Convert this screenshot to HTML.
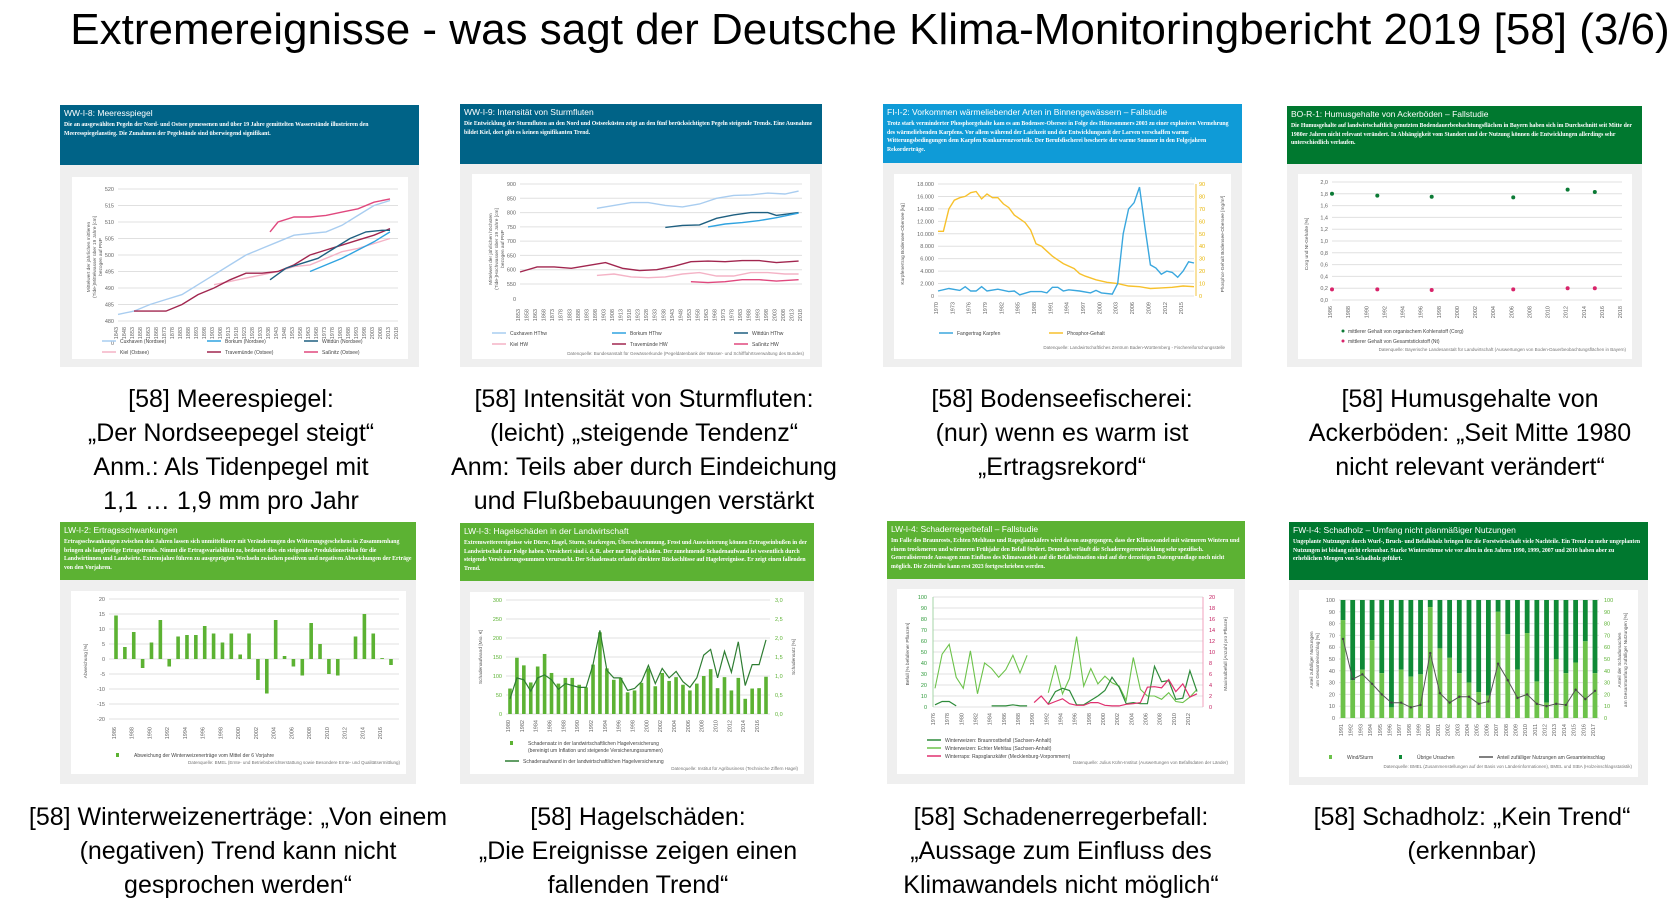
<!DOCTYPE html>
<html><head><meta charset="utf-8">
<style>
body{margin:0;width:1680px;height:905px;background:#fff;position:relative;overflow:hidden;font-family:"Liberation Sans",sans-serif}
#title{position:absolute;left:0;top:5px;width:1740px;text-align:center;font-size:44px;white-space:nowrap;color:#000}
.panel{position:absolute;background:#efefef}
.hdr{position:absolute;left:0;top:0;right:0;color:#fff;padding:3px 4px;box-sizing:border-box}
.hdr .t{font-size:8.5px;font-family:"Liberation Sans",sans-serif;margin-bottom:3px;white-space:nowrap}
.hdr .d{font-size:5.8px;line-height:8.5px;font-family:"Liberation Serif",serif;font-weight:bold}
.box{position:absolute;background:#fff}
.box svg{position:absolute;left:0;top:0}
.cap{position:absolute;text-align:center;font-size:25px;line-height:34px;white-space:nowrap;transform:translateX(-50%);color:#000}
</style></head><body>
<div id="title">Extremereignisse - was sagt der Deutsche Klima-Monitoringbericht 2019 [58] (3/6)</div>

<div class="panel" style="left:60px;top:105px;width:359px;height:262px">
 <div class="hdr" style="height:60px;background:#006387"><div class="t">WW-I-8: Meeresspiegel</div><div class="d">Die an ausgewählten Pegeln der Nord- und Ostsee gemessenen und über 19 Jahre gemittelten Wasserstände illustrieren den Meeresspiegelanstieg. Die Zunahmen der Pegelstände sind überwiegend signifikant.</div></div>
 <div class="box" id="b1" style="left:12px;top:72px;width:336px;height:182px"></div>
</div>
<div class="panel" style="left:460px;top:104px;width:362px;height:263px">
 <div class="hdr" style="height:60px;background:#006387"><div class="t">WW-I-9: Intensität von Sturmfluten</div><div class="d">Die Entwicklung der Sturmfluten an den Nord und Ostseeküsten zeigt an den fünf berücksichtigten Pegeln steigende Trends. Eine Ausnahme bildet Kiel, dort gibt es keinen signifikanten Trend.</div></div>
 <div class="box" id="b2" style="left:12px;top:70px;width:338px;height:185px"></div>
</div>
<div class="panel" style="left:883px;top:104px;width:359px;height:263px">
 <div class="hdr" style="height:59px;background:#0f9bd7"><div class="t">FI-I-2: Vorkommen wärmeliebender Arten in Binnengewässern – Fallstudie</div><div class="d">Trotz stark verminderter Phosphorgehalte kam es am Bodensee-Obersee in Folge des Hitzesommers 2003 zu einer explosiven Vermehrung des wärmeliebenden Karpfens. Vor allem während der Laichzeit und der Entwicklungszeit der Larven verschaffen warme Witterungsbedingungen dem Karpfen Konkurrenzvorteile. Der Berufsfischerei bescherte der warme Sommer in den Folgejahren Rekorderträge.</div></div>
 <div class="box" id="b3" style="left:11px;top:70px;width:337px;height:185px"></div>
</div>
<div class="panel" style="left:1287px;top:106px;width:355px;height:261px">
 <div class="hdr" style="height:58px;background:#00782f"><div class="t">BO-R-1: Humusgehalte von Ackerböden – Fallstudie</div><div class="d">Die Humusgehalte auf landwirtschaftlich genutzten Bodendauerbeobachtungsflächen in Bayern haben sich im Durchschnitt seit Mitte der 1980er Jahren nicht relevant verändert. In Abhängigkeit vom Standort und der Nutzung können die Entwicklungen allerdings sehr unterschiedlich verlaufen.</div></div>
 <div class="box" id="b4" style="left:11px;top:68px;width:334px;height:185px"></div>
</div>

<div class="panel" style="left:60px;top:522px;width:356px;height:262px">
 <div class="hdr" style="height:58px;background:#5cb233"><div class="t">LW-I-2: Ertragsschwankungen</div><div class="d">Ertragsschwankungen zwischen den Jahren lassen sich unmittelbarer mit Veränderungen des Witterungsgeschehens in Zusammenhang bringen als langfristige Ertragstrends. Nimmt die Ertragsvariabilität zu, bedeutet dies ein steigendes Produktionsrisiko für die Landwirtinnen und Landwirte. Extremjahre führen zu ausgeprägten Wechseln zwischen positiven und negativen Abweichungen der Erträge von den Vorjahren.</div></div>
 <div class="box" id="b5" style="left:11px;top:69px;width:335px;height:183px"></div>
</div>
<div class="panel" style="left:460px;top:523px;width:354px;height:261px">
 <div class="hdr" style="height:58px;background:#5cb233"><div class="t">LW-I-3: Hagelschäden in der Landwirtschaft</div><div class="d">Extremwetterereignisse wie Dürre, Hagel, Sturm, Starkregen, Überschwemmung, Frost und Auswinterung können Ertragseinbußen in der Landwirtschaft zur Folge haben. Versichert sind i. d. R. aber nur Hagelschäden. Der zunehmende Schadenaufwand ist wesentlich durch steigende Versicherungssummen verursacht. Der Schadensatz erlaubt direktere Rückschlüsse auf Hagelereignisse. Er zeigt einen fallenden Trend.</div></div>
 <div class="box" id="b6" style="left:10px;top:69px;width:334px;height:182px"></div>
</div>
<div class="panel" style="left:887px;top:521px;width:358px;height:263px">
 <div class="hdr" style="height:58px;background:#5cb233"><div class="t">LW-I-4: Schaderregerbefall – Fallstudie</div><div class="d">Im Falle des Braunrosts, Echten Mehltaus und Rapsglanzkäfers wird davon ausgegangen, dass der Klimawandel mit wärmeren Wintern und einem trockeneren und wärmeren Frühjahr den Befall fördert. Dennoch verläuft die Schaderregerentwicklung sehr spezifisch. Generalisierende Aussagen zum Einfluss des Klimawandels auf die Befallssituation sind auf der derzeitigen Datengrundlage noch nicht möglich. Die Zeitreihe kann erst 2023 fortgeschrieben werden.</div></div>
 <div class="box" id="b7" style="left:10px;top:68px;width:337px;height:185px"></div>
</div>
<div class="panel" style="left:1289px;top:522px;width:359px;height:263px">
 <div class="hdr" style="height:58px;background:#00782f"><div class="t">FW-I-4: Schadholz – Umfang nicht planmäßiger Nutzungen</div><div class="d">Ungeplante Nutzungen durch Wurf-, Bruch- und Befallsholz bringen für die Forstwirtschaft viele Nachteile. Ein Trend zu mehr ungeplanten Nutzungen ist bislang nicht erkennbar. Starke Winterstürme wie vor allen in den Jahren 1990, 1999, 2007 und 2010 haben aber zu erheblichen Mengen von Schadholz geführt.</div></div>
 <div class="box" id="b8" style="left:10px;top:68px;width:339px;height:187px"></div>
</div>

<div class="cap" style="left:231px;top:382px">[58] Meerespiegel:<br>„Der Nordseepegel steigt“<br>Anm.: Als Tidenpegel mit<br>1,1 … 1,9 mm pro Jahr</div>
<div class="cap" style="left:644px;top:382px">[58] Intensität von Sturmfluten:<br>(leicht) „steigende Tendenz“<br>Anm: Teils aber durch Eindeichung<br>und Flußbebauungen verstärkt</div>
<div class="cap" style="left:1062px;top:382px">[58] Bodenseefischerei:<br>(nur) wenn es warm ist<br>„Ertragsrekord“</div>
<div class="cap" style="left:1470px;top:382px">[58] Humusgehalte von<br>Ackerböden: „Seit Mitte 1980<br>nicht relevant verändert“</div>
<div class="cap" style="left:238px;top:800px">[58] Winterweizenerträge: „Von einem<br>(negativen) Trend kann nicht<br>gesprochen werden“</div>
<div class="cap" style="left:638px;top:800px">[58] Hagelschäden:<br>„Die Ereignisse zeigen einen<br>fallenden Trend“</div>
<div class="cap" style="left:1061px;top:800px">[58] Schadenerregerbefall:<br>„Aussage zum Einfluss des<br>Klimawandels nicht möglich“</div>
<div class="cap" style="left:1472px;top:800px">[58] Schadholz: „Kein Trend“<br>(erkennbar)</div>

<script>
// ---- Panel 1 data: Meeresspiegel
const p1Cux=[[1843,482],[1853,483],[1863,485],[1873,486.5],[1883,488],[1893,491],[1903,494],[1913,497],[1923,500],[1933,502],[1943,504],[1953,506],[1963,506.5],[1973,507],[1983,509],[1993,512],[2003,515],[2013,516.5]];
const p1Trav=[[1853,483],[1863,483],[1873,483],[1883,485],[1893,488],[1903,490],[1913,492.5],[1923,494.5],[1933,494.5],[1943,495],[1953,497],[1963,500],[1973,501.5],[1983,503],[1993,504.5],[2003,506],[2013,508]];
const p1Sass=[[1938,507],[1943,510],[1953,511.5],[1963,511.5],[1973,512],[1983,513],[1993,514],[2003,516],[2013,517]];
const p1Witt=[[1938,492.5],[1948,496],[1958,497.5],[1968,499],[1978,502],[1988,505],[1998,507],[2008,507.5],[2013,507.5]];
const p1Bork=[[1963,495],[1973,497],[1983,499],[1993,501.5],[2003,504],[2013,507]];
const p1Kiel=[[1903,491],[1913,492],[1923,493],[1933,494],[1943,495],[1953,496.5],[1963,497],[1973,499],[1983,501],[1993,502],[2003,503.5],[2013,505]];
const p1Ticks=[480,485,490,495,500,505,510,515,520];
// ---- Panel 2 data: Sturmfluten
const p2Cux=[[1898,815],[1908,825],[1918,835],[1928,835],[1938,825],[1948,820],[1958,830],[1968,850],[1978,860],[1988,862],[1998,868],[2008,865],[2016,875]];
const p2Witt=[[1938,748],[1948,755],[1958,757],[1968,780],[1978,792],[1988,800],[1998,800],[2003,790],[2016,800]];
const p2Bork=[[1963,750],[1973,760],[1983,765],[1993,772],[2003,782],[2016,798]];
const p2Trav=[[1853,592],[1863,610],[1873,610],[1883,605],[1893,615],[1903,625],[1913,605],[1923,597],[1933,600],[1943,612],[1953,628],[1963,630],[1973,628],[1983,632],[1993,632],[2003,625],[2016,630]];
const p2Kiel=[[1898,580],[1908,585],[1918,575],[1928,572],[1938,575],[1948,585],[1958,590],[1968,578],[1978,578],[1988,590],[1998,590],[2008,585],[2016,585]];
const p2Sass=[[1953,558],[1963,555],[1973,558],[1983,565],[1993,565],[2003,560],[2016,565]];
const p2Ticks=[550,600,650,700,750,800,850,900];
// ---- Panel 3 data: Bodensee
const p3Karpfen=[[1970,800],[1972,1200],[1974,900],[1975,1500],[1976,800],[1977,800],[1978,1500],[1979,800],[1981,1100],[1983,700],[1984,800],[1985,200],[1987,700],[1989,700],[1990,500],[1991,1400],[1992,1400],[1993,800],[1994,1000],[1996,800],[1998,500],[1999,900],[2000,500],[2002,300],[2003,2000],[2004,10000],[2005,14000],[2006,15000],[2007,17500],[2008,11000],[2009,5000],[2010,4500],[2011,3500],[2012,4000],[2013,3800],[2014,3000],[2015,4000],[2016,5500],[2017,5300]];
const p3Phos=[[1970,52],[1971,52],[1972,70],[1973,77],[1974,79],[1975,80],[1976,83],[1977,84],[1978,78],[1979,82],[1980,79],[1981,79],[1982,74],[1983,71],[1984,65],[1985,62],[1986,59],[1987,53],[1988,42],[1989,40],[1990,36],[1991,32],[1992,29],[1993,26],[1995,22],[1996,18],[1997,16],[1999,13],[2001,11],[2003,10],[2005,8],[2007,7.5],[2009,6],[2011,6.5],[2013,7],[2015,8],[2017,7.5]];
const p3LeftTicks=["0","2.000","4.000","6.000","8.000","10.000","12.000","14.000","16.000","18.000"];
const p3RightTicks=[0,10,20,30,40,50,60,70,80,90];
// ---- Panel 4 data: Humus
const p4Years=[1986,1991,1997,2006,2012,2015];
const p4Corg=[1.8,1.77,1.75,1.74,1.87,1.83];
const p4N=[0.18,0.18,0.17,0.18,0.2,0.2];
const p4Ticks=["0,0","0,2","0,4","0,6","0,8","1,0","1,2","1,4","1,6","1,8","2,0"];
// ---- Panel 5 data: Ertrag
const p5Years=[1986,1987,1988,1989,1990,1991,1992,1993,1994,1995,1996,1997,1998,1999,2000,2001,2002,2003,2004,2005,2006,2007,2008,2009,2010,2011,2012,2013,2014,2015,2016,2017];
const p5Vals=[14.5,4,9,-3,5.5,13,-2.5,7.5,8,8,11,8.5,5.5,8.5,1.5,8.5,-7,-11.5,13,1,-2.5,-5.5,12,5,-5,-5.5,0,7.5,15,8.5,0.3,-2];
const p5Ticks=[-20,-15,-10,-5,0,5,10,15,20];
// ---- Panel 6 data: Hagel
const p6Years=[1980,1981,1982,1983,1984,1985,1986,1987,1988,1989,1990,1991,1992,1993,1994,1995,1996,1997,1998,1999,2000,2001,2002,2003,2004,2005,2006,2007,2008,2009,2010,2011,2012,2013,2014,2015,2016,2017];
const p6Satz=[0.67,1.48,1.28,0.83,1.25,1.58,1.08,0.8,0.95,0.95,0.77,0.7,1.3,2.15,1.2,0.9,0.95,0.57,0.62,0.82,1.2,0.73,1.08,0.87,0.97,0.77,0.62,0.8,1.0,1.18,0.68,0.97,0.62,0.95,0.4,0.67,0.68,0.98];
const p6Aufwand=[40,95,90,60,95,103,90,65,80,75,70,70,130,220,115,95,95,62,67,85,128,80,120,95,112,85,70,95,155,170,95,165,110,190,75,130,130,195];
const p6LeftTicks=[0,50,100,150,200,250,300];
const p6RightTicks=["0,0","0,5","1,0","1,5","2,0","2,5","3,0"];
// ---- Panel 7 data: Schaderreger
const p7Years=[1976,1977,1978,1979,1980,1981,1982,1983,1984,1985,1986,1987,1988,1989,1990,1991,1992,1993,1994,1995,1996,1997,1998,1999,2000,2001,2002,2003,2004,2005,2006,2007,2008,2009,2010,2011,2012,2013];
const p7Braun=[2,5,5,1,null,null,null,null,1,1,1,2,1,1,null,null,3,14,17,15,2,2,6,10,15,27,18,3,4,3,3,37,23,24,7,8,33,14];
const p7Mehltau=[17,48,57,27,17,51,12,40,35,27,34,47,31,47,null,null,13,38,12,26,64,19,35,21,28,22,19,6,45,16,10,10,7,13,5,4,9,16];
const p7Raps=[null,null,null,null,null,null,null,null,null,null,null,null,null,null,0.8,2,0.5,1,1.5,0.6,0.3,0.3,0.8,0.8,0.3,0.2,0.2,0.5,0.6,0.8,3.6,3.7,3.5,5,2.8,4.2,1.8,2.4];
const p7LeftTicks=[0,10,20,30,40,50,60,70,80,90,100];
const p7RightTicks=[0,2,4,6,8,10,12,14,16,18,20];
// ---- Panel 8 data: Schadholz
const p8Years=[1991,1992,1993,1994,1995,1996,1997,1998,1999,2000,2001,2002,2003,2004,2005,2006,2007,2008,2009,2010,2011,2012,2013,2014,2015,2016,2017];
const p8Wind=[83,32,41,66,38,9,41,35,37,94,59,51,38,30,22,19,90,71,41,72,31,13,50,38,47,65,38];
const p8Anteil=[67,33,37,29,20,13,13,9,11,55,21,13,18,18,12,14,46,32,17,20,12,10,12,11,24,16,23];
const p8Ticks=[0,10,20,30,40,50,60,70,80,90,100];

const NS="http://www.w3.org/2000/svg";
function mk(tag,attrs,parent){const e=document.createElementNS(NS,tag);for(const k in attrs)e.setAttribute(k,attrs[k]);if(parent)parent.appendChild(e);return e;}
function svgFor(id){const b=document.getElementById(id);const s=mk('svg',{width:b.clientWidth,height:b.clientHeight});b.appendChild(s);return s;}
function txt(s,x,y,t,opt){opt=opt||{};const e=mk('text',{x:x,y:y,'font-size':opt.fs||5.5,fill:opt.fill||'#555','text-anchor':opt.a||'middle','font-family':'Liberation Sans, sans-serif'},s);if(opt.rot)e.setAttribute('transform','rotate('+opt.rot+' '+x+' '+y+')');e.textContent=t;return e;}
function lin(d0,d1,r0,r1){return v=>r0+(v-d0)/(d1-d0)*(r1-r0);}
function grid(s,ticks,y,x0,x1,labelX,opt){ticks.forEach((t,i)=>{const v=typeof t==='number'?t:i;const yy=y(opt&&opt.idx?i:v);const g=mk('line',{x1:x0,x2:x1,y1:yy,y2:yy,stroke:'#e0e0e0','stroke-width':1},s);const lt=txt(s,labelX,yy+2,String(t),{a:'end',fill:(opt&&opt.fill)||'#666'});});}
function xlabels(s,years,x,y0,step,fill){years.forEach((yr,i)=>{if(i%step)return;const l=txt(s,x(yr),y0,String(yr),{rot:-90,a:'end',fill:fill||'#666'});});}
function path(s,pts,x,y,col,w,name){let d='';let pen=false;pts.forEach(p=>{if(p[1]==null){pen=false;return;}d+=(pen?'L':'M')+x(p[0]).toFixed(1)+','+y(p[1]).toFixed(1);pen=true;});const e=mk('path',{d:d,fill:'none',stroke:col,'stroke-width':w||1.4},s);return e;}
function legend(s,x,y,col,label,type){if(type==='sq')mk('rect',{x:x,y:y-3,width:3,height:4,fill:col},s);else mk('line',{x1:x,x2:x+14,y1:y-1,y2:y-1,stroke:col,'stroke-width':1.5},s);const t=txt(s,x+18,y+1,label,{a:'start',fill:'#444',fs:5});}
function src(s,W,H,t){const e=txt(s,W-6,H-6,t,{a:'end',fill:'#777',fs:4.5});}

// Panel 1
(function(){const s=svgFor('b1');const W=336,H=182;const x=lin(1843,2018,46,326),y=lin(480,520,144,12);
grid(s,p1Ticks,y,46,326,42);txt(s,42,176-8,'0',{a:'end',fill:'#666'});
const yrs=[];for(let v=1843;v<=2018;v+=5)yrs.push(v);xlabels(s,yrs,x,150,1);
txt(s,18,80,'Mittelwert der jährlichen mittleren',{rot:-90,fs:4.8});txt(s,24,80,'(Tide-)Mittelwasser über 19 Jahre [cm]',{rot:-90,fs:4.8});txt(s,30,80,'bezogen auf PNP',{rot:-90,fs:4.8});
path(s,p1Cux,x,y,'#a9cdf0',1.4,'line-cuxhaven');path(s,p1Kiel,x,y,'#f4b3c6',1.4,'line-kiel');path(s,p1Trav,x,y,'#a1264f',1.4,'line-travemuende');path(s,p1Sass,x,y,'#e0487e',1.4,'line-sassnitz');path(s,p1Witt,x,y,'#1e5f80',1.4,'line-wittduen');path(s,p1Bork,x,y,'#2fa3e0',1.4,'line-borkum');
legend(s,30,165,'#a9cdf0','Cuxhaven (Nordsee)');legend(s,135,165,'#2fa3e0','Borkum (Nordsee)');legend(s,232,165,'#1e5f80','Wittdün (Nordsee)');
legend(s,30,176,'#f4b3c6','Kiel (Ostsee)');legend(s,135,176,'#a1264f','Travemünde (Ostsee)');legend(s,232,176,'#e0487e','Saßnitz (Ostsee)');})();

// Panel 2
(function(){const s=svgFor('b2');const W=338,H=185;const x=lin(1853,2018,48,330),y=lin(550,900,110,10);
grid(s,p2Ticks,y,48,330,44);txt(s,44,127,'0',{a:'end',fill:'#666'});
const yrs=[];for(let v=1853;v<=2018;v+=5)yrs.push(v);xlabels(s,yrs,x,135,1);
txt(s,20,75,'Mittelwert der jährlichen höchsten',{rot:-90,fs:4.8});txt(s,26,75,'(Tide-)Hochwasser über 19 Jahre [cm]',{rot:-90,fs:4.8});txt(s,32,75,'bezogen auf PNP',{rot:-90,fs:4.8});
path(s,p2Cux,x,y,'#a9cdf0',1.4,'line-cuxhaven');path(s,p2Witt,x,y,'#1e5f80',1.4,'line-wittduen');path(s,p2Bork,x,y,'#2fa3e0',1.4,'line-borkum');path(s,p2Trav,x,y,'#a1264f',1.4,'line-travemuende');path(s,p2Kiel,x,y,'#f4b3c6',1.4,'line-kiel');path(s,p2Sass,x,y,'#e0487e',1.4,'line-sassnitz');
legend(s,20,160,'#a9cdf0','Cuxhaven HThw');legend(s,140,160,'#2fa3e0','Borkum HThw');legend(s,262,160,'#1e5f80','Wittdün HThw');
legend(s,20,171,'#f4b3c6','Kiel HW');legend(s,140,171,'#a1264f','Travemünde HW');legend(s,262,171,'#e0487e','Saßnitz HW');
src(s,W,H+2,'Datenquelle: Bundesanstalt für Gewässerkunde (Pegeldatenbank der Wasser- und Schifffahrtsverwaltung des Bundes)');})();

// Panel 3
(function(){const s=svgFor('b3');const W=337,H=185;const x=lin(1970,2017,44,300),yl=lin(0,18000,122,10),yr=lin(0,90,122,10);
p3LeftTicks.forEach((t,i)=>{const yy=yl(i*2000);mk('line',{x1:44,x2:300,y1:yy,y2:yy,stroke:'#e0e0e0'},s);txt(s,40,yy+2,t,{a:'end',fill:'#666'});});
p3RightTicks.forEach(t=>{txt(s,305,yr(t)+2,String(t),{a:'start',fill:'#e8b400'});});
mk('line',{x1:302,x2:302,y1:10,y2:122,stroke:'#f3c542'},s);
const yrs=[];for(let v=1970;v<=2015;v+=3)yrs.push(v);xlabels(s,yrs,x,128,1);
txt(s,10,70,'Karpfenertrag Bodensee-Obersee [kg]',{rot:-90,fs:4.8});txt(s,330,70,'Phosphor-Gehalt Bodensee-Obersee [mg/m³]',{rot:-90,fs:4.8});
path(s,p3Phos,x,yr,'#f7c12c',1.4,'line-phosphor');path(s,p3Karpfen,x,yl,'#3aa7de',1.4,'line-karpfen');
legend(s,45,160,'#3aa7de','Fangertrag Karpfen');legend(s,155,160,'#f7c12c','Phosphor-Gehalt');
src(s,W,H-4,'Datenquelle: Landwirtschaftliches Zentrum Baden-Württemberg - Fischereiforschungsstelle');})();

// Panel 4
(function(){const s=svgFor('b4');const W=334,H=185;const x=lin(1986,2018,34,324),y=lin(0,2,126,8);
grid(s,p4Ticks,i=>y(i*0.2),34,324,30,{idx:true});
const yrs=[];for(let v=1986;v<=2018;v+=2)yrs.push(v);xlabels(s,yrs,x,132,1);
txt(s,10,70,'Corg und Nt-Gehalte [%]',{rot:-90,fs:4.8});
p4Years.forEach((yr,i)=>{const c=mk('circle',{cx:x(yr),cy:y(p4Corg[i]),r:2,fill:'#0b7a35'},s);
const n=mk('circle',{cx:x(yr),cy:y(p4N[i]),r:2,fill:'#d8246a'},s);});
mk('circle',{cx:45,cy:157,r:1.5,fill:'#0b7a35'},s);txt(s,50,159,'mittlerer Gehalt von organischem Kohlenstoff (Corg)',{a:'start',fs:5,fill:'#444'});
mk('circle',{cx:45,cy:167,r:1.5,fill:'#d8246a'},s);txt(s,50,169,'mittlerer Gehalt von Gesamtstickstoff (Nt)',{a:'start',fs:5,fill:'#444'});
src(s,W,H-2,'Datenquelle: Bayerische Landesanstalt für Landwirtschaft (Auswertungen von Boden-Dauerbeobachtungsflächen in Bayern)');})();

// Panel 5
(function(){const s=svgFor('b5');const W=335,H=183;const x=lin(1986,2017,45,320),y=lin(-20,20,128,8);
grid(s,p5Ticks,y,38,328,34);
const yrs=[];for(let v=1986;v<=2016;v+=2)yrs.push(v);xlabels(s,yrs,x,136,1);
txt(s,16,70,'Abweichung [%]',{rot:-90,fs:4.8});
p5Years.forEach((yr,i)=>{const v=p5Vals[i];const r=mk('rect',{x:x(yr)-1.8,y:Math.min(y(v),y(0)),width:3.6,height:Math.abs(y(v)-y(0)),fill:'#5cb233'},s);});
legend(s,45,165,'#5cb233','Abweichung der Winterweizenerträge vom Mittel der 6 Vorjahre','sq');
src(s,W,H-4,'Datenquelle: BMEL (Ernte- und Betriebsberichterstattung sowie Besondere Ernte- und Qualitätsermittlung)');})();

// Panel 6
(function(){const s=svgFor('b6');const W=334,H=182;const x=lin(1980,2017,40,296),yl=lin(0,300,122,8),yr=lin(0,3,122,8);
p6LeftTicks.forEach((t,i)=>{const yy=yl(t);mk('line',{x1:36,x2:300,y1:yy,y2:yy,stroke:'#e0e0e0'},s);txt(s,32,yy+2,String(t),{a:'end',fill:'#5cb233'});txt(s,305,yy+2,p6RightTicks[i],{a:'start',fill:'#5cb233'});});
const yrs=[];for(let v=1980;v<=2016;v+=2)yrs.push(v);xlabels(s,yrs,x,128,1);
txt(s,12,65,'Schadenaufwand [Mio. €]',{rot:-90,fs:4.8});txt(s,325,65,'Schadensatz [%]',{rot:-90,fs:4.8});
p6Years.forEach((yy,i)=>{const r=mk('rect',{x:x(yy)-1.8,y:yr(p6Satz[i]),width:3.6,height:yr(0)-yr(p6Satz[i]),fill:'#5cb233'},s);});
path(s,p6Years.map((yy,i)=>[yy,p6Aufwand[i]]),x,yl,'#2e7d32',1.2,'line-schadenaufwand');
legend(s,40,152,'#5cb233','Schadensatz in der landwirtschaftlichen Hagelversicherung','sq');txt(s,58,160,'(bereinigt um Inflation und steigende Versicherungssummen)',{a:'start',fs:5,fill:'#444'});
legend(s,35,170,'#2e7d32','Schadenaufwand in der landwirtschaftlichen Hagelversicherung');
src(s,W,H+2,'Datenquelle: Institut für Agribusiness (Technische Ziffern Hagel)');})();

// Panel 7
(function(){const s=svgFor('b7');const W=337,H=185;const x=lin(1976,2013,38,300),yl=lin(0,100,118,8),yr=lin(0,20,118,8);
p7LeftTicks.forEach((t,i)=>{const yy=yl(t);mk('line',{x1:36,x2:306,y1:yy,y2:yy,stroke:'#e0e0e0'},s);txt(s,30,yy+2,String(t),{a:'end',fill:'#2e9a3a'});txt(s,312,yy+2,String(p7RightTicks[i]),{a:'start',fill:'#c2185b'});});
mk('line',{x1:306,x2:306,y1:8,y2:118,stroke:'#f0a0bd'},s);mk('line',{x1:36,x2:36,y1:8,y2:118,stroke:'#a5d6a7'},s);
const yrs=[];for(let v=1976;v<=2012;v+=2)yrs.push(v);xlabels(s,yrs,x,124,1);
txt(s,12,65,'Befall [% befallener Pflanzen]',{rot:-90,fs:4.8});txt(s,330,65,'Maximalbefall [Anzahl pro Pflanze]',{rot:-90,fs:4.8});
path(s,p7Years.map((yy,i)=>[yy,p7Mehltau[i]]),x,yl,'#6cc24a',1.1,'line-mehltau');
path(s,p7Years.map((yy,i)=>[yy,p7Braun[i]]),x,yl,'#2e8b3a',1.2,'line-braunrost');
path(s,p7Years.map((yy,i)=>[yy,p7Raps[i]]),x,yr,'#e0306f',1.2,'line-rapsglanzkaefer');
legend(s,30,152,'#2e8b3a','Winterweizen: Braunrostbefall (Sachsen-Anhalt)');legend(s,30,160,'#6cc24a','Winterweizen: Echter Mehltau (Sachsen-Anhalt)');legend(s,30,168,'#e0306f','Winterraps: Rapsglanzkäfer (Mecklenburg-Vorpommern)');
src(s,W,H-4,'Datenquelle: Julius Kühn-Institut (Auswertungen von Befallsdaten der Länder)');})();

// Panel 8
(function(){const s=svgFor('b8');const W=339,H=187;const x=lin(1991,2017,44,296),y=lin(0,100,128,10);
p8Ticks.forEach(t=>{const yy=y(t);mk('line',{x1:40,x2:300,y1:yy,y2:yy,stroke:'#e0e0e0'},s);txt(s,36,yy+2,String(t),{a:'end',fill:'#666'});txt(s,305,yy+2,String(t),{a:'start',fill:'#5cb233'});});
xlabels(s,p8Years,x,134,1);
txt(s,14,70,'Anteil zufälliger Nutzungen',{rot:-90,fs:4.8});txt(s,20,70,'am Gesamteinschlag [%]',{rot:-90,fs:4.8});txt(s,322,70,'Anteil der Schadursachen',{rot:-90,fs:4.8});txt(s,328,70,'am Gesamtumfang zufälliger Nutzungen [%]',{rot:-90,fs:4.8});
p8Years.forEach((yy,i)=>{const w=p8Wind[i];const a=mk('rect',{x:x(yy)-2.4,y:y(100),width:4.8,height:y(w)-y(100),fill:'#0f8a36'},s);
const b=mk('rect',{x:x(yy)-2.4,y:y(w),width:4.8,height:y(0)-y(w),fill:'#6cc24a'},s);});
path(s,p8Years.map((yy,i)=>[yy,p8Anteil[i]]),x,y,'#555',1,'line-anteil');
p8Years.forEach((yy,i)=>{const m=mk('circle',{cx:x(yy),cy:y(p8Anteil[i]),r:1.2,fill:'#444'},s);});
legend(s,30,168,'#6cc24a','Wind/Sturm','sq');legend(s,100,168,'#0f8a36','Übrige Ursachen','sq');legend(s,180,168,'#555','Anteil zufälliger Nutzungen am Gesamteinschlag');
src(s,W,H-3,'Datenquelle: BMEL (Zusammenstellungen auf der Basis von Länderinformationen), BMEL und StBA (Holzeinschlagsstatistik)');})();
</script>
</body></html>
